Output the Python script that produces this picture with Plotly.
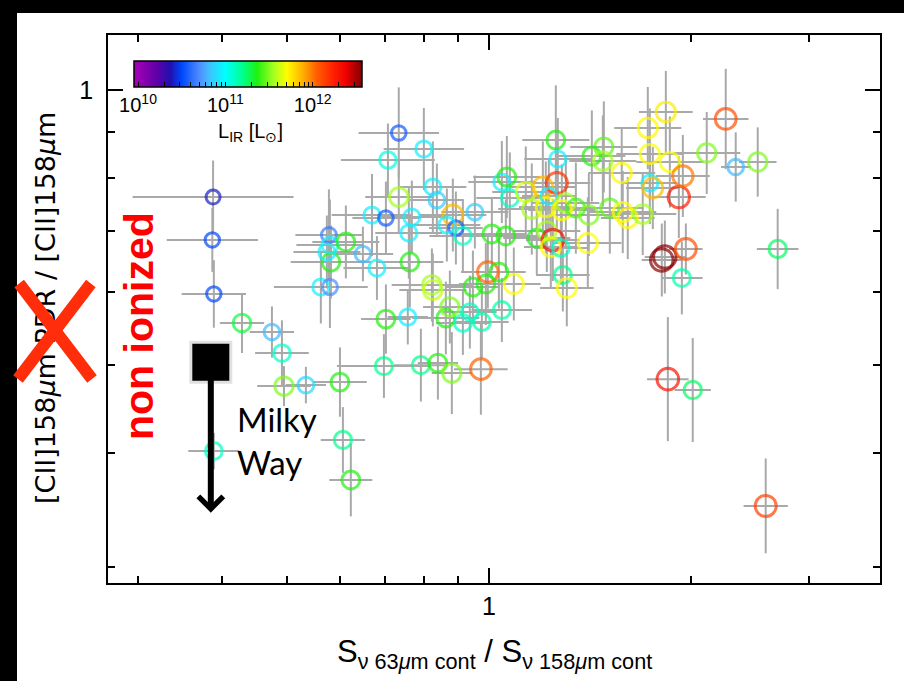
import numpy as np
import plotly.graph_objects as go

# ---- galaxy sample --------------------------------------------------------
# continuum ratio S_nu(63um)/S_nu(158um)
cont_ratio = [
    0.388, 0.387, 0.389, 0.4285, 0.4749, 0.4915, 0.495, 0.5336, 0.5998, 0.6059,
    0.6226, 0.389, 0.7023, 0.7571, 0.6975, 0.7919, 0.8395, 0.8807, 0.9730, 0.8627,
    0.9147, 0.9763, 1.0456, 0.8224, 0.8251, 0.8747, 0.9369, 0.9467, 0.9897, 1.0895,
    0.5617, 0.5795, 0.5815, 0.649, 0.681, 0.7624, 0.9966, 1.035, 0.734, 0.800,
    0.7072, 0.734, 0.8251, 0.8366, 0.8837, 0.893, 0.8657, 0.9147, 0.9531, 0.6695,
    0.7023, 0.7677, 0.7597, 0.5775, 0.5795, 0.5735, 0.6121, 1.0104, 1.0456, 1.0637,
    1.0747, 1.1352, 1.2037, 1.2628, 1.1589, 1.2160, 1.2286, 1.3025, 1.2848, 1.3481,
    1.4095, 1.5148, 1.5836, 1.6112, 1.6961, 1.060, 1.1789, 1.2202, 1.2456, 1.2370,
    1.2804, 1.4046, 1.2892, 1.3069, 1.8108, 1.8297, 1.2585, 1.2672, 1.4840, 1.4241,
    1.4789, 1.578, 1.7378, 1.7378, 1.7557, 1.8614, 1.9198, 1.9465, 1.836, 2.2552,
    1.7258, 2.1129, 2.3339, 2.5171, 1.9666, 1.9399, 2.6956, 1.8487, 2.0137, 2.587,
]
# [CII]158um PDR / [CII]158um
cii_pdr_frac = [
    0.7632, 0.6848, 0.5975, 0.5553, 0.5428, 0.5146, 0.4735, 0.4747, 0.4783, 0.4133,
    0.3736, 0.4019, 0.5608, 0.5636, 0.4980, 0.4992, 0.5018, 0.4893, 0.4942, 0.5623,
    0.5553, 0.5567, 0.5737, 0.6113, 0.6036, 0.5781, 0.5708, 0.6081, 0.6128, 0.6128,
    0.6081, 0.6081, 0.6477, 0.6609, 0.6380, 0.6477, 0.6316, 0.6316, 0.8972, 0.8616,
    0.8380, 0.7632, 0.7827, 0.7574, 0.7293, 0.7058, 0.7112, 0.6917, 0.7348, 0.7293,
    0.7238, 0.7256, 0.6969, 0.6934, 0.6761, 0.6643, 0.6813, 0.6952, 0.7927, 0.8028,
    0.7613, 0.7729, 0.7827, 0.7907, 0.7404, 0.7441, 0.7651, 0.7517, 0.7385, 0.7422,
    0.7293, 0.7422, 0.7348, 0.7238, 0.7311, 0.6917, 0.6882, 0.7005, 0.6848, 0.6727,
    0.6711, 0.6796, 0.6268, 0.6066, 0.6510, 0.6559, 0.8814, 0.8401, 0.8660, 0.8465,
    0.8359, 0.8110, 0.8508, 0.7907, 0.7808, 0.8338, 0.7632, 0.8049, 0.9460, 0.9295,
    0.9085, 0.8530, 0.8234, 0.8338, 0.6694, 0.6222, 0.6694, 0.4819, 0.4688, 0.3499,
]
# log10 of L_IR [L_sun]
log_lir = [
    10.40, 10.50, 10.50, 11.30, 10.80, 11.10, 11.50, 10.88, 11.37, 11.20,
    11.37, 11.10, 11.37, 10.95, 11.20, 11.20, 11.37, 11.50, 12.05, 11.37,
    11.10, 11.15, 11.15, 11.55, 11.60, 11.50, 11.10, 11.37, 11.37, 11.70,
    10.95, 10.70, 11.37, 10.80, 10.95, 11.37, 12.05, 11.37, 10.55, 10.95,
    11.05, 11.55, 10.95, 10.85, 11.86, 10.55, 10.95, 11.10, 10.85, 10.95,
    10.55, 10.95, 10.95, 10.65, 10.95, 10.95, 11.37, 11.37, 10.95, 11.37,
    11.10, 11.65, 11.86, 12.18, 11.55, 11.70, 10.95, 11.55, 11.70, 11.40,
    11.50, 11.45, 11.70, 11.72, 11.55, 11.37, 11.35, 11.55, 12.31, 11.70,
    11.10, 11.70, 11.20, 11.70, 12.55, 12.55, 11.37, 10.95, 11.45, 11.37,
    11.55, 11.72, 11.70, 10.95, 11.86, 11.70, 12.25, 12.00, 11.75, 12.10,
    11.72, 11.50, 10.80, 11.50, 12.10, 11.15, 11.25, 12.30, 11.25, 12.15,
]
# 1-sigma uncertainties, in dex
err_x_dex = [
    0.120, 0.068, 0.048, 0.033, 0.033, 0.040, 0.040, 0.030, 0.040, 0.033,
    0.032, 0.038, 0.037, 0.030, 0.070, 0.040, 0.030, 0.030, 0.040, 0.050,
    0.040, 0.040, 0.045, 0.060, 0.050, 0.040, 0.040, 0.040, 0.040, 0.040,
    0.070, 0.050, 0.060, 0.045, 0.050, 0.050, 0.040, 0.040, 0.060, 0.060,
    0.070, 0.050, 0.050, 0.040, 0.050, 0.040, 0.050, 0.050, 0.050, 0.060,
    0.050, 0.050, 0.050, 0.050, 0.050, 0.050, 0.050, 0.050, 0.050, 0.050,
    0.050, 0.050, 0.050, 0.050, 0.050, 0.040, 0.040, 0.050, 0.050, 0.050,
    0.050, 0.050, 0.050, 0.040, 0.050, 0.050, 0.050, 0.050, 0.040, 0.040,
    0.040, 0.050, 0.040, 0.040, 0.030, 0.030, 0.050, 0.050, 0.050, 0.050,
    0.050, 0.050, 0.050, 0.040, 0.040, 0.050, 0.040, 0.040, 0.040, 0.034,
    0.050, 0.050, 0.022, 0.028, 0.025, 0.031, 0.031, 0.031, 0.027, 0.033,
]
err_y_dex = [
    0.040, 0.035, 0.037, 0.033, 0.028, 0.036, 0.022, 0.020, 0.038, 0.036,
    0.040, 0.020, 0.038, 0.030, 0.035, 0.040, 0.040, 0.045, 0.050, 0.040,
    0.035, 0.040, 0.035, 0.040, 0.040, 0.040, 0.040, 0.040, 0.045, 0.040,
    0.040, 0.045, 0.040, 0.030, 0.035, 0.050, 0.040, 0.040, 0.050, 0.045,
    0.040, 0.040, 0.050, 0.040, 0.040, 0.040, 0.040, 0.040, 0.040, 0.045,
    0.040, 0.040, 0.050, 0.050, 0.050, 0.040, 0.040, 0.040, 0.045, 0.045,
    0.050, 0.050, 0.050, 0.050, 0.050, 0.050, 0.040, 0.050, 0.050, 0.050,
    0.045, 0.050, 0.045, 0.045, 0.045, 0.040, 0.040, 0.045, 0.045, 0.045,
    0.040, 0.050, 0.040, 0.042, 0.040, 0.040, 0.060, 0.045, 0.050, 0.050,
    0.050, 0.050, 0.050, 0.045, 0.045, 0.050, 0.045, 0.045, 0.045, 0.055,
    0.045, 0.045, 0.038, 0.038, 0.028, 0.040, 0.044, 0.068, 0.057, 0.052,
]

# Milky Way: upper limit on the PDR fraction
mw_cont_ratio = 0.385
mw_cii_frac = 0.503
mw_limit_tip = 0.344

# colour scale (L_IR) and its range in log10 L_sun
lir_min, lir_max = 9.954, 12.565
lir_cbar_decades = [10, 11, 12]
rainbow = [
    [0.00, "#a800b8"], [0.10, "#6000a8"], [0.16, "#2010b0"], [0.21, "#0048ff"],
    [0.29, "#5090ff"], [0.33, "#40c0ff"], [0.40, "#00ffff"], [0.48, "#00ff88"],
    [0.54, "#20f010"], [0.61, "#a0ff20"], [0.67, "#ffff00"], [0.74, "#ffb000"],
    [0.80, "#ff6000"], [0.875, "#ff2000"], [0.93, "#f00000"], [1.00, "#800000"],
]

# ---- figure geometry ------------------------------------------------------
W, H = 904, 681
L, R, T, B = 108, 24, 35, 98
PW, PH = W - L - R, H - T - B


def paper_x(px):
    return (px - L) / PW


def paper_y(py):
    return (H - B - py) / PH


x = np.array(cont_ratio)
y = np.array(cii_pdr_frac)
lir = np.array(log_lir)
ex = np.array(err_x_dex)
ey = np.array(err_y_dex)

cbar_vals, cbar_text = [], []
for d in lir_cbar_decades:
    for m in range(1, 10):
        v = d + np.log10(m)
        if v <= lir_max:
            cbar_vals.append(v)
            cbar_text.append("10<sup>%d</sup>" % d if m == 1 else "")

fig = go.Figure()

# error bars (drawn first, underneath the symbols)
fig.add_trace(go.Scatter(
    x=x, y=y, mode="markers",
    marker=dict(size=1, color="rgba(0,0,0,0)"),
    error_x=dict(type="data", symmetric=False,
                 array=x * (10 ** ex - 1), arrayminus=x * (1 - 10 ** -ex),
                 color="#a9a9a9", thickness=2, width=0),
    error_y=dict(type="data", symmetric=False,
                 array=y * (10 ** ey - 1), arrayminus=y * (1 - 10 ** -ey),
                 color="#a9a9a9", thickness=2, width=0),
    hoverinfo="skip", showlegend=False,
))

# galaxies, open circles coloured (and sized) by L_IR
fig.add_trace(go.Scatter(
    x=x, y=y, mode="markers", showlegend=False,
    marker=dict(
        symbol="circle-open",
        size=14.0 + 4.0 * (lir - 10.4),
        color=lir, colorscale=rainbow, cmin=lir_min, cmax=lir_max,
        line=dict(width=3),
        colorbar=dict(
            orientation="h", xref="paper", yref="paper",
            x=paper_x(134), xanchor="left", y=paper_y(61), yanchor="top",
            len=228, lenmode="pixels", thickness=26, thicknessmode="pixels",
            xpad=0, ypad=0, outlinecolor="black", outlinewidth=1.5,
            tickmode="array", tickvals=cbar_vals, ticktext=cbar_text,
            ticks="inside", ticklen=5, tickcolor="black", tickwidth=1,
            tickfont=dict(family="Liberation Sans", size=20, color="black"),
        ),
    ),
))

# Milky Way square
fig.add_trace(go.Scatter(
    x=[mw_cont_ratio], y=[mw_cii_frac], mode="markers", showlegend=False,
    marker=dict(symbol="square", size=43, color="rgba(0,0,0,0.12)", line=dict(width=0)),
    hoverinfo="skip",
))
fig.add_trace(go.Scatter(
    x=[mw_cont_ratio], y=[mw_cii_frac], mode="markers", showlegend=False,
    marker=dict(symbol="square", size=37, color="black", line=dict(width=0)),
))

axis_common = dict(
    type="log", showgrid=False, zeroline=False,
    showline=True, linecolor="black", linewidth=1.5, mirror="ticks",
    ticks="inside", ticklen=15, tickwidth=1.5, tickcolor="black",
    tickfont=dict(family="Liberation Sans", size=25, color="black"),
    tickmode="array", tickvals=[1], ticktext=["1"],
)
fig.update_xaxes(
    **axis_common, range=[np.log10(0.2705), np.log10(3.83)],
    minor=dict(tickmode="array", tickvals=[0.3, 0.4, 0.5, 0.6, 0.7, 0.8, 0.9, 2, 3],
               ticks="inside", ticklen=7, tickwidth=1.5, tickcolor="black", showgrid=False),
)
fig.update_yaxes(
    **axis_common, range=[np.log10(0.288), np.log10(1.149)], ticklabelstandoff=8,
    minor=dict(tickmode="array", tickvals=[0.3, 0.4, 0.5, 0.6, 0.7, 0.8, 0.9],
               ticks="inside", ticklen=7, tickwidth=1.5, tickcolor="black", showgrid=False),
)

idl_font = dict(family="Liberation Sans", color="black")
centered = dict(xref="paper", yref="paper", xanchor="center", yanchor="middle", showarrow=False)
annotations = [
    # axis titles
    dict(text="S<sub>\u03bd 63<i>\u03bc</i>m cont</sub> / S<sub>\u03bd 158<i>\u03bc</i>m cont</sub>",
         x=0.5, y=paper_y(654), font=dict(size=31, **idl_font), **centered),
    dict(text="[CII]158<i>\u03bc</i>m PDR / [CII]158<i>\u03bc</i>m",
         x=paper_x(45), y=paper_y(308), textangle=-90,
         font=dict(family="DejaVu Sans", size=27, color="black"), **centered),
    # colour bar title
    dict(text="L<sub>IR</sub> [L<sub>\u2299</sub>]", x=paper_x(250), y=paper_y(133),
         font=dict(size=20, **idl_font), **centered),
    # region label
    dict(text="<b>non ionized</b>", x=paper_x(139), y=paper_y(326), textangle=-90,
         font=dict(family="Liberation Sans", size=41, color="#ff0000"), **centered),
    # Milky Way label and upper-limit arrow
    dict(text="Milky<br>Way", xref="paper", yref="paper", x=paper_x(235), y=paper_y(440),
         xanchor="left", yanchor="middle", align="left", showarrow=False,
         font=dict(family="Lato", size=33, color="black")),
    dict(text="", xref="x", yref="y", x=np.log10(mw_cont_ratio), y=np.log10(mw_limit_tip),
         ax=0, ay=-140, showarrow=True, arrowhead=4, arrowsize=0.8, arrowwidth=6,
         arrowcolor="black", standoff=0, startstandoff=0),
]
# red cross over the axis title
for (x0, y0, x1, y1) in [(18, 282, 92, 379), (92, 282, 18, 379)]:
    annotations.append(dict(
        text="", xref="paper", yref="paper", x=paper_x(x1), y=paper_y(y1),
        ax=x0 - x1, ay=y0 - y1, showarrow=True, arrowhead=0, arrowwidth=12,
        arrowcolor="#ff2d0a", standoff=0, startstandoff=0,
    ))

shapes = [
    dict(type="rect", xref="paper", yref="paper", layer="below", line=dict(width=0),
         fillcolor="black", x0=paper_x(0), x1=paper_x(17), y0=paper_y(H), y1=paper_y(0)),
    dict(type="rect", xref="paper", yref="paper", layer="below", line=dict(width=0),
         fillcolor="black", x0=paper_x(0), x1=paper_x(W), y0=paper_y(13), y1=paper_y(0)),
]

fig.update_layout(
    width=W, height=H, margin=dict(l=L, r=R, t=T, b=B),
    paper_bgcolor="white", plot_bgcolor="white",
    annotations=annotations, shapes=shapes, showlegend=False,
)

fig.write_html("out.html")
